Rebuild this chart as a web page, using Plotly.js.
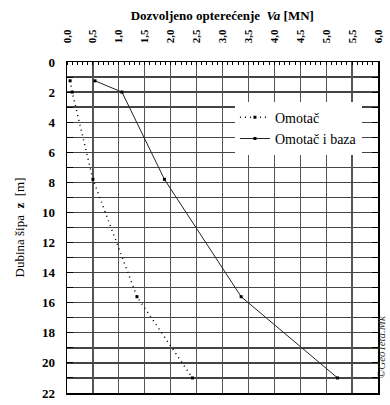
<!DOCTYPE html>
<html>
<head>
<meta charset="utf-8">
<script src="https://cdn.plot.ly/plotly-3.0.1.min.js"></script>
<style>html,body{margin:0;padding:0;background:#fff}#chart{width:390px;height:405px}</style>
</head>
<body>
<div id="chart"></div>
<script>
var depth = [1.25, 2.0, 7.8, 15.6, 21.0];
var omotac = [0.06, 0.1, 0.5, 1.35, 2.42];
var omotacBaza = [0.54, 1.06, 1.88, 3.36, 5.22];
var xTickVals = [0, 0.5, 1, 1.5, 2, 2.5, 3, 3.5, 4, 4.5, 5, 5.5, 6];
var xTickText = ["0,0","0,5","1,0","1,5","2,0","2,5","3,0","3,5","4,0","4,5","5,0","5,5","6,0"];
var yTickVals = [0, 2, 4, 6, 8, 10, 12, 14, 16, 18, 20, 22];
var yTickText = ["0","2","4","6","8","10","12","14","16","18","20","22"];

var serif = "Liberation Serif";

var traces = [
  {x: omotac, y: depth, name: "Omotač", mode: "lines+markers",
   line: {color: "#000", width: 1.5, dash: "1px,4px"},
   marker: {color: "#000", size: 3, symbol: "square"}},
  {x: omotacBaza, y: depth, name: "Omotač i baza", mode: "lines+markers",
   line: {color: "#222", width: 1},
   marker: {color: "#000", size: 3, symbol: "square"}}
];

var layout = {
  width: 390, height: 405,
  margin: {l: 67, r: 12, t: 62, b: 12},
  paper_bgcolor: "#fff", plot_bgcolor: "#fff",
  font: {family: serif, color: "#000"},
  showlegend: true,
  title: {text: "<b>Dozvoljeno opterećenje  <i>Va</i> [MN]</b>", font: {family: serif, size: 13, color: "#000"},
          x: 0.57, xanchor: "center", y: 0.963, yanchor: "middle", yref: "container"},
  xaxis: {side: "top", range: [0, 6], tickvals: xTickVals,
          ticktext: xTickText.map(function(t){return "<b>" + t + "</b>";}),
          tickangle: -90, ticks: "", ticklabelstandoff: 15,
          tickfont: {family: serif, size: 11, color: "#000"},
          showgrid: true, gridcolor: "#555", gridwidth: 1.3,
          showline: true, linecolor: "#000", linewidth: 1.5, mirror: true,
          zeroline: false, fixedrange: true,
          minor: {dtick: 0.1, ticks: "inside", ticklen: 3, tickcolor: "#000", showgrid: false}},
  yaxis: {range: [22, 0], tickvals: yTickVals,
          ticktext: yTickText.map(function(t){return "<b>" + t + "</b>";}),
          ticks: "inside", ticklen: 6, tickcolor: "#000",
          tickfont: {family: serif, size: 13, color: "#000"},
          ticklabelstandoff: 8,
          showgrid: true, gridcolor: "#444", gridwidth: 1.3,
          showline: true, linecolor: "#000", linewidth: 1.5, mirror: "allticks",
          zeroline: false, fixedrange: true,
          title: {text: "Dubina šipa  <b>z</b>  [m]", font: {family: serif, size: 13, color: "#000"}, standoff: 14},
          minor: {dtick: 1, ticks: "inside", ticklen: 6, tickcolor: "#000", showgrid: true, gridcolor: "#444", gridwidth: 1.3}},
  legend: {x: 0.54, y: 0.88, xanchor: "left", yanchor: "top", bgcolor: "#fff",
           borderwidth: 0, font: {family: serif, size: 14, color: "#000"}},
  annotations: [
    {text: "<i>©GeoTeta.Mk</i>", xref: "paper", yref: "paper", x: 1.035, y: 0.04, yanchor: "bottom",
     showarrow: false, textangle: -90, font: {family: serif, size: 11, color: "#333"}}
  ]
};

Plotly.newPlot("chart", traces, layout, {displayModeBar: false, staticPlot: true});
</script>
</body>
</html>
